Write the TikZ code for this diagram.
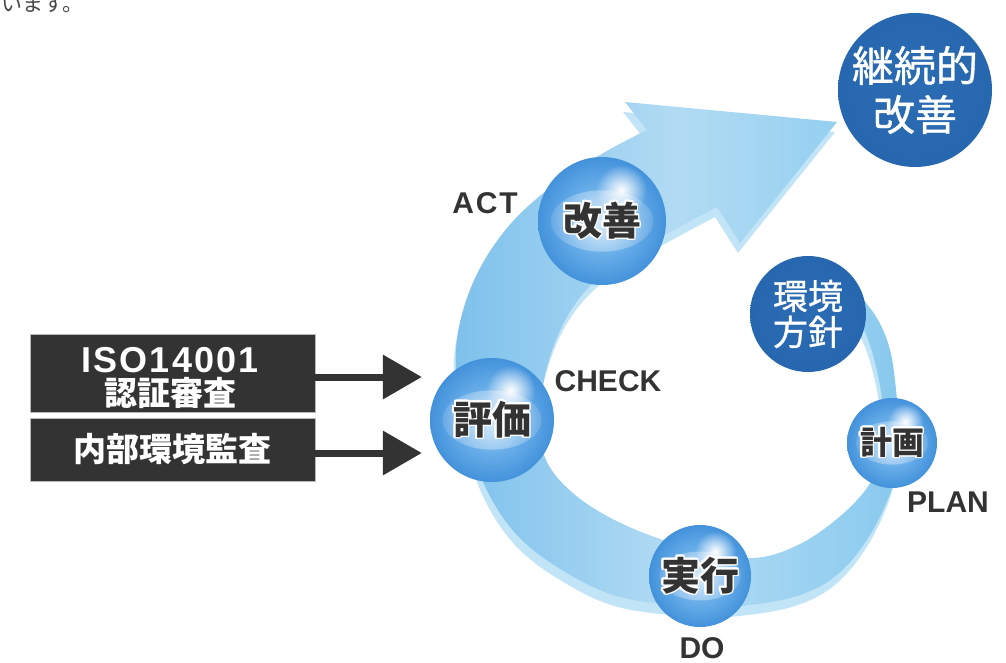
\documentclass[tikz,border=0pt]{standalone}
\usepackage{fontspec}
\setmainfont{Liberation Sans}
\newfontfamily\cjk{Noto Sans CJK JP}
\newfontfamily\cjkm[FakeBold=0.9]{Noto Sans CJK JP}
\usepackage{contour}
\contourlength{1.5pt}
\usetikzlibrary{fadings,arrows.meta,calc}

\definecolor{ink}{HTML}{333333}
\definecolor{boxfill}{HTML}{333333}
\definecolor{bandlight}{HTML}{C2E4F7}
\definecolor{bandA}{HTML}{58ACE3}
\definecolor{bandB}{HTML}{7EC1EC}
\definecolor{bandC}{HTML}{B2DBF3}
\definecolor{bandD}{HTML}{92CEF0}
\definecolor{bandE}{HTML}{72BBE8}
\definecolor{bandF}{HTML}{5EB1E5}
\definecolor{sphA}{HTML}{9ACDF2}
\definecolor{sphB}{HTML}{66ACE8}
\definecolor{sphC}{HTML}{3386D5}
\definecolor{sphD}{HTML}{2270C3}
\definecolor{sphE}{HTML}{195CAC}
\definecolor{discA}{HTML}{2C6CB3}
\definecolor{discB}{HTML}{2464AD}
\definecolor{discC}{HTML}{1C579C}

\pgfdeclarehorizontalshading{bandshade}{100bp}{color(0bp)=(bandA); color(25bp)=(bandB); color(50bp)=(bandC); color(70bp)=(bandD); color(86bp)=(bandE); color(100bp)=(bandF)}
\pgfdeclareradialshading{sphereshade}{\pgfpointorigin}{color(0bp)=(sphA); color(14bp)=(sphB); color(30bp)=(sphC); color(44bp)=(sphD); color(50bp)=(sphE)}
\pgfdeclareradialshading{discshade}{\pgfpointorigin}{color(0bp)=(discA); color(40bp)=(discB); color(50bp)=(discC)}
\tikzfading[name=glowfade, inner color=transparent!0, outer color=transparent!100]

\newcommand\pdcaband{plot[smooth, tension=0.6] coordinates {(850,285) (875,315) (890,350) (897,400) (899,445) (893,485) (870,535) (838,574) (800,595) (750,605) (700,607) (620,597) (562,570) (516,534) (484,484) (464,420) (456,350) (472,285) (507,228) (556,183) (605,152) (647,130)}
 -- (625,102) -- (837,122) -- (740,243)
 -- plot[smooth, tension=0.6] coordinates {(717,207) (663,236) (614,265) (578,300) (554,345) (541,400) (544,455) (574,494) (625,525) (690,548) (752,558) (800,544) (845,512) (873,478) (882,440) (882,400) (873,355) (860,322) (842,300)} -- cycle}

\tikzset{
  pdcasphere/.style={circle, inner sep=0pt, minimum size=#1, shading=sphereshade, text=ink,
    font=\cjk\bfseries\fontsize{39}{40}\selectfont,
    path picture={
      \fill[white, opacity=0.6, path fading=glowfade] (path picture bounding box.center) ellipse [x radius=0.40*#1, y radius=0.24*#1];
      \fill[white, path fading=glowfade] ([xshift=0.15*#1, yshift=0.24*#1]path picture bounding box.center) circle[radius=0.2*#1];}},
  pdcadisc/.style={circle, inner sep=0pt, minimum size=#1, shading=discshade, text=white, align=center},
  pdcalab/.style={text=ink, font=\bfseries\fontsize{30}{32}\selectfont, inner sep=0pt},
  pdcabox/.style={fill=boxfill, draw=gray!55, line width=0.8pt, minimum width=285pt, inner sep=0pt},
  pdcafeed/.style={draw=boxfill, line width=7pt, -{Triangle[length=39pt, width=43pt]}, shorten >=8pt},
}

\begin{document}
\begin{tikzpicture}[x=1pt, y=-1pt]
\useasboundingbox (0,0) rectangle (1006,663);
\fill[white] (0,0) rectangle (1006,663);

\node[anchor=west, text=black!72, font=\cjk\fontsize{21}{21}\selectfont, inner sep=0pt] (intro) at (1,4) {います。};

% spiral band
\fill[bandlight, shift={(-2,10)}] \pdcaband;
\shade[shading=bandshade] \pdcaband;

% circles
\node[pdcadisc=154pt, font=\cjkm\fontsize{42}{49}\selectfont] (keizoku) at (915,90) {継続的\\改善};
\node[pdcadisc=116pt, font=\cjkm\fontsize{35}{36}\selectfont] (hoshin) at (808,314) {環境\\方針};
\node[pdcasphere=128pt] (kaizen) at (602,221) {\contour{white}{改善}};
\node[pdcasphere=124pt] (hyoka) at (492,420) {\contour{white}{評価}};
\node[pdcasphere=102pt] (jikko) at (700,576) {\contour{white}{実行}};
\node[pdcasphere=90pt, font=\cjk\bfseries\fontsize{32}{32}\selectfont] (keikaku) at (892,443) {\contour{white}{計画}};

% labels
\node[pdcalab, font=\bfseries\fontsize{30}{32}\selectfont\addfontfeature{LetterSpace=6}] (act) at (485,203) {ACT};
\node[pdcalab] (check) at (608,381) {CHECK};
\node[pdcalab] (plan) at (948,502) {PLAN};
\node[pdcalab] (do) at (702,648) {DO};

% boxes
\node[pdcabox, minimum height=78pt] (box1) at (172.5,373) {};
\node[text=white, inner sep=0pt, font=\bfseries\fontsize{36}{36}\selectfont\addfontfeature{LetterSpace=6}] (iso) at (170,360) {ISO14001};
\node[text=white, inner sep=0pt, font=\cjk\bfseries\fontsize{33}{33}\selectfont] (cert) at (170,393) {認証審査};
\node[pdcabox, minimum height=63pt, text=white, font=\cjk\bfseries\fontsize{33}{33}\selectfont] (box2) at (172.5,449.5) {内部環境監査};

% feed arrows
\coordinate (a1s) at ([yshift=-4pt]box1.east);
\coordinate (a1e) at (a1s -| hyoka.west);
\coordinate (a2s) at ([yshift=-3.5pt]box2.east);
\coordinate (a2e) at (a2s -| hyoka.west);
\draw[pdcafeed] (a1s) -- (a1e);
\draw[pdcafeed] (a2s) -- (a2e);
\end{tikzpicture}
\end{document}
